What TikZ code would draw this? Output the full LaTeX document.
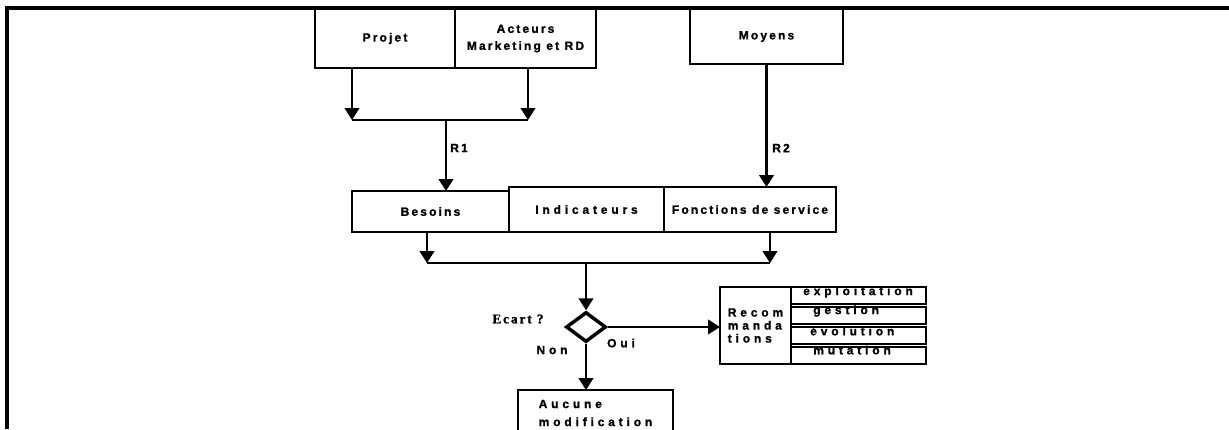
\documentclass[tikz,border=0pt]{standalone}
\usepackage{fontspec}
\setmainfont{Liberation Sans}
\newfontfamily\topfont{Liberation Sans Bold}[LetterSpace=18, FakeBold=1.2]
\newfontfamily\lowfont{Liberation Sans Bold}[LetterSpace=32, FakeBold=1.2]
\newfontfamily\askfont{Liberation Serif Bold}[LetterSpace=14, FakeBold=1.2]
\usetikzlibrary{arrows.meta,positioning,shapes.geometric}

\begin{document}
\begin{tikzpicture}[x=0.75pt, y=-0.75pt,
  box/.style={draw, line width=1.9pt, inner sep=0pt, outer sep=0pt, align=center,
              font=\topfont\fontsize{9}{12.75}\selectfont},
  lbox/.style={box, font=\lowfont\fontsize{9}{9.75}\selectfont},
  rowbox/.style={lbox, minimum width=101.25pt, minimum height=12.75pt},
  txt/.style={inner sep=0pt, font=\topfont\fontsize{9}{9}\selectfont},
  ltxt/.style={inner sep=0pt, font=\lowfont\fontsize{9}{9}\selectfont},
  ln/.style={line width=1.7pt},
  arr/.style={ln, -{Triangle[width=11pt,length=9pt]}},
  frame/.style={line width=2.8pt},
]
  \useasboundingbox (0,0) rectangle (1229,429);
  \clip (0,0) rectangle (1229,429);

  % cadre
  \draw[frame] (1229,8) -- (7,8) -- (7,429);

  % entrees
  \node[box, minimum width=105pt, minimum height=44.25pt] (projet) at (385,38.5) {Projet};
  \node[box, minimum width=105.75pt, minimum height=44.25pt] (acteurs) at (525.5,38.5) {Acteurs\\Marketing et RD};
  \node[box, minimum width=114.75pt, minimum height=41.25pt] (moyens) at (766.5,36.5) {Moyens};

  % analyse
  \node[box, minimum width=117.75pt, minimum height=30.75pt] (besoins) at (430.5,211.5) {Besoins};
  \node[lbox, minimum width=116.25pt, minimum height=33.75pt] (indic) at (586.5,209.5) {Indicateurs};
  \node[box, minimum width=129pt, minimum height=33.75pt] (fonctions) at (750,209.5) {Fonctions de service};

  % decision
  \node[draw, diamond, line width=2.6pt, inner sep=0pt, minimum width=30pt, minimum height=22.5pt] (test) at (586,327) {};
  \node[inner sep=0pt, font=\askfont\fontsize{10}{12}\selectfont] (ecart) at (518,319) {Ecart ?};
  \node[lbox, align=left, minimum width=116.25pt, minimum height=34.5pt] (aucune) at (595.5,413) {Aucune\\[3.75pt]modification};

  % recommandations
  \node[lbox, align=left, minimum width=53.25pt, minimum height=57.75pt] (recom) at (755.5,325.5) {Recom\\manda\\tions};
  \node[rowbox] (expl) at (858.5,295.5) {};
  \node[rowbox] (gest) at (858.5,315.5) {};
  \node[rowbox] (evol) at (858.5,335.5) {};
  \node[rowbox] (mut) at (858.5,355.5) {};
  \node[ltxt, anchor=west] (texpl) at (803,292) {exploitation};
  \node[ltxt, anchor=west] (tgest) at (813,311) {gestion};
  \node[ltxt, anchor=west] (tevol) at (810,331) {évolution};
  \node[ltxt, anchor=west] (tmut) at (813,350) {mutation};

  % jonctions
  \coordinate (ja) at (352,120);
  \coordinate (jb) at (528,120);
  \coordinate (jr) at (446,120);
  \coordinate (jc) at (427,263);
  \coordinate (jd) at (770,263);
  \coordinate (je) at (586,263);

  \draw[arr] (projet.south -| ja) -- (ja);
  \draw[arr] (acteurs.south -| jb) -- (jb);
  \draw[ln] (ja) -- (jb);
  \draw[arr] (jr) -- (besoins.north -| jr);
  \draw[arr] (moyens.south) -- (fonctions.north -| moyens.south);

  \draw[arr] (besoins.south -| jc) -- (jc);
  \draw[arr] (fonctions.south -| jd) -- (jd);
  \draw[ln] (jc) -- (jd);
  \draw[arr] (je) -- (test.north);

  \draw[arr] (test.east) -- (test.east -| recom.west);
  \draw[arr] (test.south) -- (aucune.north -| test.south);

  \node[txt, anchor=west] (r1) at (450,148) {R1};
  \node[txt, anchor=west] (r2) at (772,148) {R2};
  \node[ltxt] (oui) at (621,343) {Oui};
  \node[ltxt] (non) at (552,350) {Non};
\end{tikzpicture}
\end{document}
